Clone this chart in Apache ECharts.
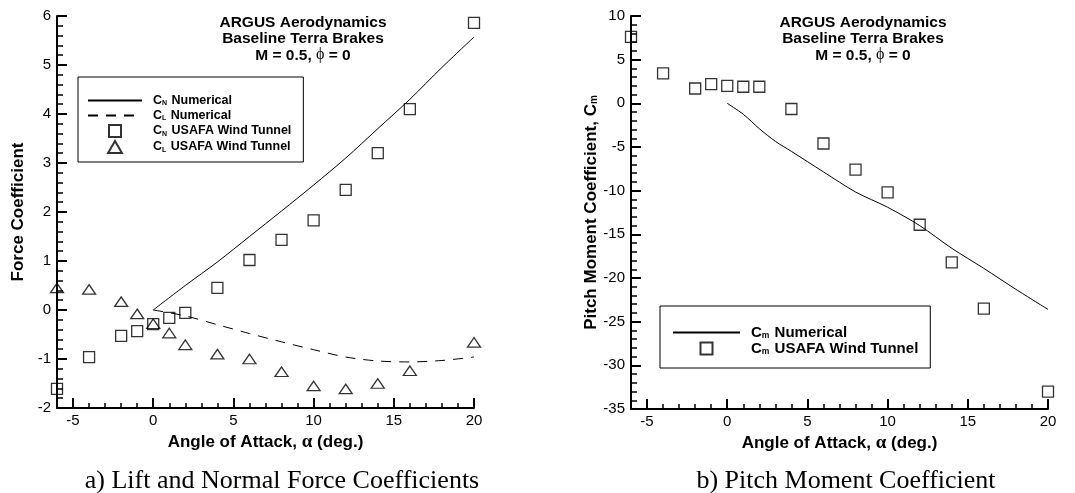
<!DOCTYPE html>
<html>
<head>
<meta charset="utf-8">
<script src="https://cdn.jsdelivr.net/npm/echarts@6/dist/echarts.min.js"></script>
<style>
  html, body { margin: 0; padding: 0; background: #fff; }
  #chart { width: 1075px; height: 493px; }
</style>
</head>
<body>
<div id="chart"></div>
<script>
// wind tunnel angles
const alphaTunnel = [-6, -4, -2, -1, 0, 1, 2, 4, 6, 8, 10, 12, 14, 16, 20]
const cnTunnel = [-1.61, -0.96, -0.53, -0.43, -0.29, -0.16, -0.06, 0.45, 1.02, 1.43, 1.83, 2.45, 3.2, 4.1, 5.86]
const clTunnel = [0.45, 0.42, 0.17, -0.08, -0.28, -0.47, -0.71, -0.9, -1.0, -1.26, -1.55, -1.61, -1.5, -1.24, -0.66]
const cmTunnel = [7.6, 3.44, 1.7, 2.2, 2.0, 1.9, 1.9, -0.65, -4.6, -7.6, -10.2, -13.9, -18.2, -23.5, -33.0]

// numerical results
const alphaNum = [0, 2, 4, 6, 8, 10, 12, 14, 16, 18, 20]
const cnNum = [0, 0.5, 0.98, 1.5, 2.02, 2.55, 3.1, 3.7, 4.3, 4.95, 5.57]
const clNum = [0, -0.12, -0.3, -0.48, -0.65, -0.81, -0.96, -1.04, -1.06, -1.03, -0.96]
const alphaCm = [0, 1, 2, 3, 4, 6, 8, 10, 12, 14, 16, 18, 20]
const cmNum = [0, -1.25, -2.9, -4.35, -5.5, -7.85, -10.15, -11.9, -14.0, -16.6, -18.9, -21.3, -23.6]

// tick labels
const xMajor = [-5, 0, 5, 10, 15, 20]
const xMinor = [-4, -3, -2, -1, 1, 2, 3, 4, 6, 7, 8, 9, 11, 12, 13, 14, 16, 17, 18, 19]

const zip = (xs, ys) => xs.map((x, i) => [x, ys[i]])

const SANS = 'Liberation Sans, Arial, sans-serif'
const SERIF = 'Liberation Serif, Times New Roman, serif'
const CLEAR = 'rgba(0,0,0,0)'

const legendText = {
  'CN Numerical': '{m|C}{s|N}{m| Numerical}',
  'CL Numerical': '{m|C}{s|L}{m| Numerical}',
  'CN USAFA Wind Tunnel': '{m|C}{s|N}{m| USAFA Wind Tunnel}',
  'CL USAFA Wind Tunnel': '{m|C}{s|L}{m| USAFA Wind Tunnel}',
  'Cm Numerical': '{m|C}{s|m}{m| Numerical}',
  'Cm USAFA Wind Tunnel': '{m|C}{s|m}{m| USAFA Wind Tunnel}'
}
const richFor = (size, sub) => ({
  m: { fontFamily: SANS, fontWeight: 'bold', fontSize: size, color: '#000' },
  s: { fontFamily: SANS, fontWeight: 'bold', fontSize: sub, color: '#000', verticalAlign: 'bottom', padding: [0, 1, 0, 0] }
})

const square = 'path://M0,0L10,0L10,10L0,10Z'
const triangle = 'path://M6,0L12,10.4L0,10.4Z'

const mainX = (grid) => ({
  type: 'value', gridIndex: grid, min: -6, max: 20, position: 'bottom',
  axisLine: { onZero: false, lineStyle: { color: '#000', width: 2 } },
  axisTick: { inside: true, length: 10, customValues: xMajor, lineStyle: { color: '#000', width: 2 } },
  axisLabel: { customValues: xMajor, color: '#000', fontSize: 15, fontFamily: SANS, margin: 5 },
  splitLine: { show: false },
  name: 'Angle of Attack, {a|α} (deg.)',
  nameLocation: 'middle',
  nameGap: 17,
  nameTextStyle: {
    fontFamily: SANS, fontWeight: 'bold', fontSize: 17, color: '#000',
    rich: { a: { fontFamily: SERIF, fontSize: 19, color: '#000' } }
  }
})

const minorX = (grid) => ({
  type: 'value', gridIndex: grid, min: -6, max: 20, position: 'bottom',
  axisLine: { show: false, onZero: false },
  axisTick: { inside: true, length: 5, customValues: xMinor, lineStyle: { color: '#000', width: 1.5 } },
  axisLabel: { show: false },
  splitLine: { show: false }
})

const yAxisBase = {
  type: 'value', position: 'left',
  axisLine: { show: true, onZero: false, lineStyle: { color: '#000', width: 2 } },
  axisTick: { inside: true, length: 10, lineStyle: { color: '#000', width: 2 } },
  minorTick: { show: true, splitNumber: 5, length: 6, lineStyle: { color: '#000', width: 1.5 } },
  axisLabel: { color: '#000', fontSize: 15, fontFamily: SANS, margin: 6 },
  splitLine: { show: false },
  nameLocation: 'middle',
  nameGap: 30
}

const titleStyle = {
  text: 'ARGUS Aerodynamics\nBaseline Terra Brakes\nM = 0.5, {p|ϕ} = 0',
  font: 'bold 15.5px ' + SANS, fill: '#000', textAlign: 'center', lineHeight: 16.5,
  rich: { p: { fontFamily: SERIF, fontSize: 16, fontWeight: 'normal', fill: '#000' } }
}

const captionStyle = (text) => ({
  text, font: '26px ' + SERIF, fill: '#000', textAlign: 'center', textVerticalAlign: 'middle', verticalAlign: 'middle'
})

const lineSeries = (name, xs, ys, xi, dash) => ({
  name, type: 'line', xAxisIndex: xi, yAxisIndex: xi,
  data: zip(xs, ys), showSymbol: false, symbol: 'circle', symbolSize: 0, smooth: 0.3,
  lineStyle: { color: '#000', width: 1, type: dash || 'solid' },
  itemStyle: { color: CLEAR, borderColor: CLEAR, borderWidth: 0 }
})

const scatterSeries = (name, xs, ys, xi, symbol, size) => ({
  name, type: 'scatter', xAxisIndex: xi, yAxisIndex: xi,
  data: zip(xs, ys), symbol, symbolSize: size, symbolKeepAspect: true,
  itemStyle: { color: CLEAR, borderColor: '#000', borderWidth: 1.3 }
})

const chart = echarts.init(document.getElementById('chart'))
chart.setOption({
  animation: false,
  backgroundColor: '#fff',
  grid: [
    { left: 57, top: 16, width: 417, height: 392 },
    { left: 631, top: 16, width: 417, height: 393 }
  ],
  xAxis: [mainX(0), mainX(1), minorX(0), minorX(1)],
  yAxis: [
    Object.assign({}, yAxisBase, {
      gridIndex: 0, min: -2, max: 6, interval: 1,
      name: 'Force Coefficient',
      nameTextStyle: { fontFamily: SANS, fontWeight: 'bold', fontSize: 17, color: '#000' }
    }),
    Object.assign({}, yAxisBase, {
      gridIndex: 1, min: -35, max: 10, interval: 5,
      name: 'Pitch Moment Coefficient, C{s|m}',
      nameTextStyle: {
        fontFamily: SANS, fontWeight: 'bold', fontSize: 17, color: '#000',
        rich: { s: { fontFamily: SANS, fontWeight: 'bold', fontSize: 10, color: '#000', verticalAlign: 'bottom' } }
      }
    })
  ],
  legend: [
    {
      orient: 'vertical', left: 78, top: 77,
      padding: [17, 12, 8, 9], itemGap: 2, itemWidth: 54, itemHeight: 12,
      borderColor: '#000', borderWidth: 1,
      data: ['CN Numerical', 'CL Numerical', 'CN USAFA Wind Tunnel', 'CL USAFA Wind Tunnel'],
      formatter: (name) => legendText[name],
      textStyle: { padding: [0, 0, 0, 6], rich: richFor(12.5, 7) }
    },
    {
      orient: 'vertical', left: 660, top: 306,
      padding: [19, 12, 12, 12], itemGap: 1, itemWidth: 67, itemHeight: 12,
      borderColor: '#000', borderWidth: 1,
      data: ['Cm Numerical', 'Cm USAFA Wind Tunnel'],
      formatter: (name) => legendText[name],
      textStyle: { padding: [0, 0, 0, 6], rich: richFor(15, 8.5) }
    }
  ],
  graphic: [
    { type: 'text', x: 303, y: 14, style: titleStyle },
    { type: 'text', x: 863, y: 14, style: titleStyle },
    { type: 'text', x: 282, y: 481, style: captionStyle('a) Lift and Normal Force Coefficients') },
    { type: 'text', x: 846, y: 481, style: captionStyle('b) Pitch Moment Coefficient') }
  ],
  series: [
    lineSeries('CN Numerical', alphaNum, cnNum, 0),
    lineSeries('CL Numerical', alphaNum, clNum, 0, [10, 8]),
    scatterSeries('CN USAFA Wind Tunnel', alphaTunnel, cnTunnel, 0, square, 11),
    scatterSeries('CL USAFA Wind Tunnel', alphaTunnel, clTunnel, 0, triangle, [13, 11]),
    lineSeries('Cm Numerical', alphaCm, cmNum, 1),
    scatterSeries('Cm USAFA Wind Tunnel', alphaTunnel, cmTunnel, 1, square, 11)
  ]
})
</script>
</body>
</html>
